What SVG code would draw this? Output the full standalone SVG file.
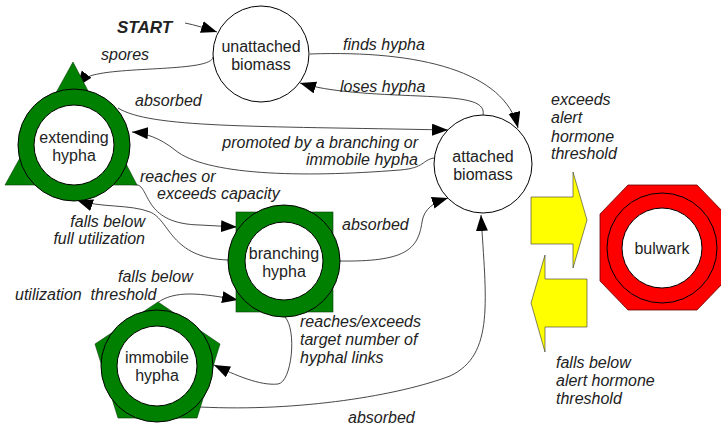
<svg xmlns="http://www.w3.org/2000/svg" width="721" height="430" viewBox="0 0 721 430">
<style>
text{font-family:"Liberation Sans",Arial,sans-serif;font-size:16px;fill:#222}
.lbl{font-style:italic}
.node{text-anchor:middle}
.edge{fill:none;stroke:#333;stroke-width:0.9;marker-end:url(#ah)}
.ring{fill:#008000;stroke:#000;stroke-width:1}
.shape{fill:#008000;stroke:#0a3a0a;stroke-width:0.6}
.hole{fill:#fff;stroke:#000;stroke-width:1}
.plain{fill:#fff;stroke:#000;stroke-width:1}
.yarrow{fill:#ffff00;stroke:#333;stroke-width:0.6}
</style>
<defs>
<marker id="ah" markerUnits="userSpaceOnUse" markerWidth="17" markerHeight="13" refX="16" refY="6" orient="auto">
<path d="M0,0 L16,6 L0,12 z" fill="#000"/>
</marker>
</defs>
<rect width="721" height="430" fill="#fff"/>

<g id="connectors">
<path class="edge" d="M185,23 C195,25 205,28 217,32"/>
<path class="edge" d="M213,57 C212,72 120,66 90,76 C85,78 80,83 77,87"/>
<path class="edge" d="M310,54 C420,50 505,72 518,128"/>
<path class="edge" d="M483,115 C486,100 462,98 420,96 C370,94 330,92 300,83"/>
<path class="edge" d="M118,108 C150,128 250,126 448,130"/>
<path class="edge" d="M434,158 C422,160 425,168 400,170 C300,178 205,175 175,150 C160,138 145,133 132,132"/>
<path class="edge" d="M113,183 L138,185 C150,190 145,224 200,225 L237,227"/>
<path class="edge" d="M228,260 C170,258 170,220 150,212 C130,204 100,208 77,200"/>
<path class="edge" d="M339,261 C405,262 418,250 422,222 C424,208 435,202 448,198"/>
<path class="edge" d="M157,303 C175,290 200,293 238,300"/>
<path class="edge" d="M285,317 C297,330 292,382 278,384 C260,386 235,375 214,365"/>
<path class="edge" d="M200,407 C300,412 400,395 450,376 C495,355 486,300 481,215"/>
<text class="lbl" x="117" y="33" style="font-weight:bold;font-size:17px">START</text>
<text class="lbl" x="101" y="60">spores</text>
<text class="lbl" x="343" y="50">finds hypha</text>
<text class="lbl" x="340" y="92">loses hypha</text>
<text class="lbl" x="135" y="106">absorbed</text>
<text class="lbl" x="418" y="148" text-anchor="end">promoted by a branching or</text>
<text class="lbl" x="418" y="165" text-anchor="end">immobile hypha</text>
<text class="lbl" x="140" y="182">reaches or</text>
<text class="lbl" x="157" y="199">exceeds capacity</text>
<text class="lbl" x="145" y="227" text-anchor="end">falls below</text>
<text class="lbl" x="145" y="244" text-anchor="end">full utilization</text>
<text class="lbl" x="342" y="230">absorbed</text>
<text class="lbl" x="118" y="282">falls below</text>
<text class="lbl" x="15" y="300" xml:space="preserve">utilization  threshold</text>
<text class="lbl" x="300" y="327">reaches/exceeds</text>
<text class="lbl" x="300" y="345">target number of</text>
<text class="lbl" x="300" y="363">hyphal links</text>
<text class="lbl" x="348" y="423">absorbed</text>
<text class="lbl" x="551" y="105">exceeds</text>
<text class="lbl" x="551" y="123">alert</text>
<text class="lbl" x="551" y="142">hormone</text>
<text class="lbl" x="551" y="159">threshold</text>
<text class="lbl" x="556" y="368">falls below</text>
<text class="lbl" x="556" y="386">alert hormone</text>
<text class="lbl" x="556" y="404">threshold</text>
<path class="yarrow" d="M531,197 L573,197 L573,172 L587,220 L573,268 L573,244 L531,244 z"/>
<path class="yarrow" d="M587,279 L545,279 L545,255 L531,303 L545,352 L545,327 L587,327 z"/>
</g>

<g id="unattached">
<circle class="plain" cx="261" cy="54" r="48"/>
<text class="node" x="261" y="52">unattached</text>
<text class="node" x="261" y="70">biomass</text>
</g>

<g id="attached">
<circle class="plain" cx="483" cy="164" r="49"/>
<text class="node" x="483" y="162">attached</text>
<text class="node" x="483" y="180">biomass</text>
</g>

<g id="extending">
<polygon class="shape" points="73,62 137,185 5,185"/>
<circle class="ring" cx="74" cy="145" r="56"/>
<circle class="hole" cx="74" cy="145" r="40"/>
<text class="node" x="74" y="143">extending</text>
<text class="node" x="74" y="161">hypha</text>
</g>

<g id="branching">
<rect class="shape" x="236" y="212" width="97" height="100"/>
<circle class="ring" cx="284" cy="261" r="56"/>
<circle class="hole" cx="284" cy="261" r="39"/>
<text class="node" x="284" y="259">branching</text>
<text class="node" x="284" y="277">hypha</text>
</g>

<g id="immobile">
<polygon class="shape" points="158,302 220,344 197,418 118,418 95,344"/>
<circle class="ring" cx="157" cy="366" r="56"/>
<circle class="hole" cx="157" cy="366" r="40"/>
<text class="node" x="157" y="363">immobile</text>
<text class="node" x="157" y="381">hypha</text>
</g>

<g id="bulwark">
<polygon points="628,185 697,185 725,214 725,281 697,310 628,310 600,281 600,214" fill="#ff0000" stroke="#600" stroke-width="0.8"/>
<circle cx="662" cy="248" r="55" fill="#ff0000" stroke="#000" stroke-width="1"/>
<circle class="hole" cx="662" cy="248" r="40"/>
<text class="node" x="662" y="254">bulwark</text>
</g>
</svg>
